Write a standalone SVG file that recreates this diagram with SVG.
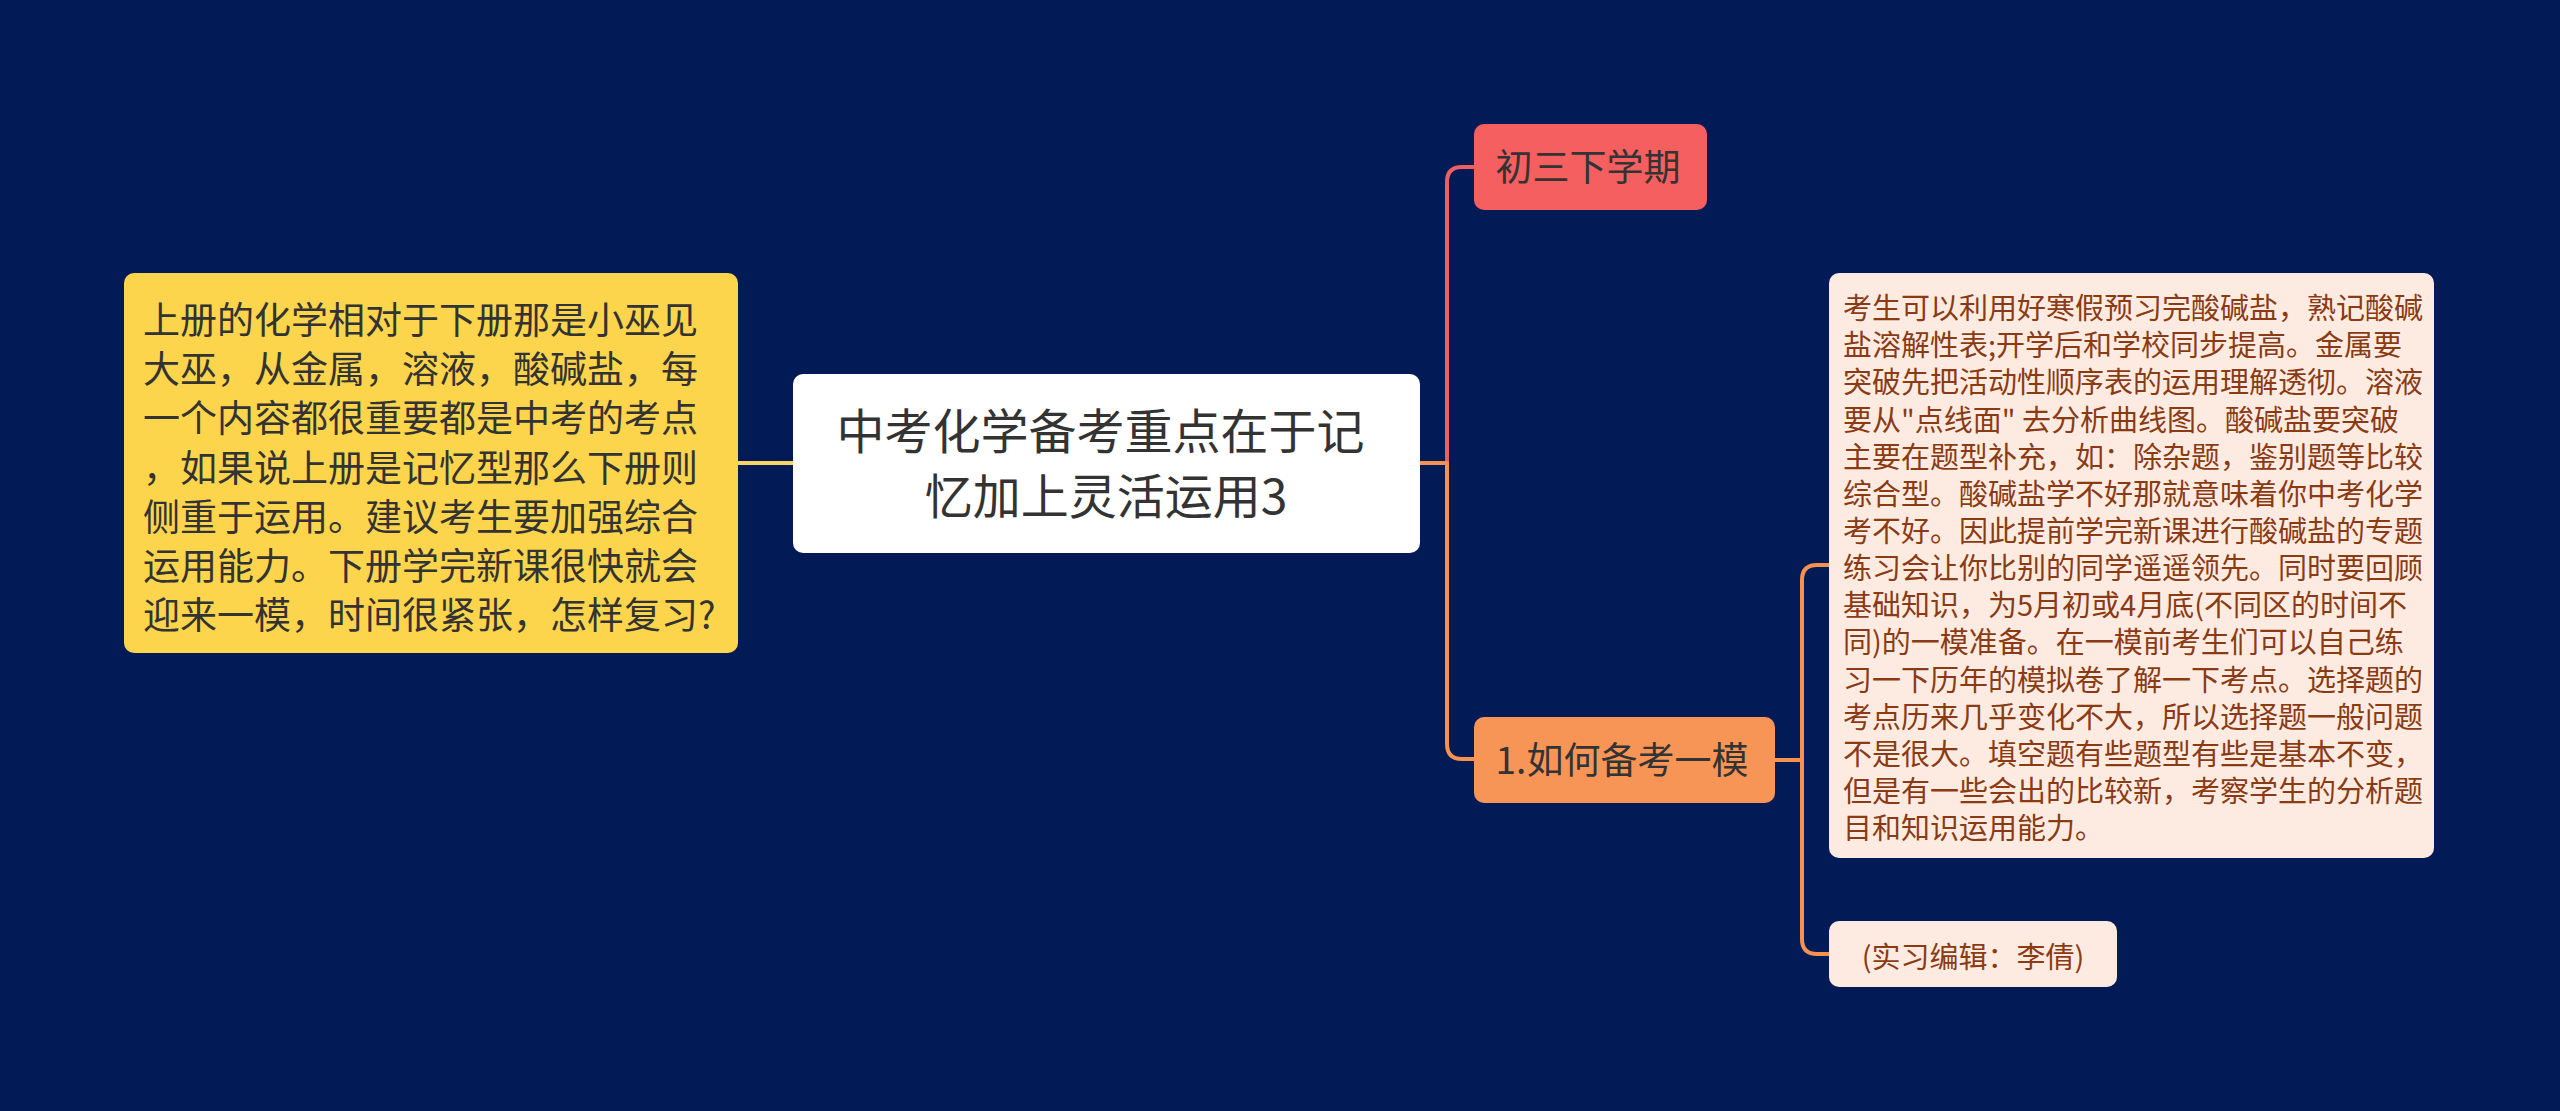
<svg xmlns="http://www.w3.org/2000/svg" width="2560" height="1111" viewBox="0 0 2560 1111">
<style>
text{font-family:"Noto Sans CJK SC","Noto Sans",sans-serif;}
.c{fill:none;stroke-width:4;stroke-linecap:round;stroke-linejoin:round;}
.t37{font-size:37px;fill:#333333;}
.lt{font-size:29px;fill:#8a3b14;}
</style>
<rect width="2560" height="1111" fill="#021a56"/>
<g id="connectors">
<path class="c" stroke="#f7d666" d="M738,463 H793"/>
<path class="c" stroke="#f05f60" d="M1447,463 V182 Q1447,167 1462,167 H1474"/>
<path class="c" stroke="#f5924f" d="M1420,463 H1447 V744 Q1447,759 1462,759 H1474"/>
<path class="c" stroke="#f5924f" d="M1775,760 H1802 V580 Q1802,565 1817,565 H1829"/>
<path class="c" stroke="#f5924f" d="M1802,760 V939 Q1802,954 1817,954 H1829"/>
</g>
<g id="node-left">
<rect x="124" y="273" width="614" height="380" rx="10" fill="#fcd54c"/>
<text class="t37" x="143">
<tspan x="143" y="334">上册的化学相对于下册那是小巫见</tspan>
<tspan x="143" y="383">大巫，从金属，溶液，酸碱盐，每</tspan>
<tspan x="143" y="432">一个内容都很重要都是中考的考点</tspan>
<tspan x="143" y="482">，如果说上册是记忆型那么下册则</tspan>
<tspan x="143" y="531">侧重于运用。建议考生要加强综合</tspan>
<tspan x="143" y="580">运用能力。下册学完新课很快就会</tspan>
<tspan x="143" y="629">迎来一模，时间很紧张，怎样复习?</tspan>
</text>
</g>
<g id="node-root">
<rect x="793" y="374" width="627" height="179" rx="10" fill="#ffffff"/>
<text text-anchor="middle" font-size="48" fill="#333333">
<tspan x="1106" y="449">中考化学备考重点在于记</tspan>
<tspan x="1106" y="514">忆加上灵活运用3</tspan>
</text>
</g>
<g id="node-term">
<rect x="1474" y="124" width="233" height="86" rx="10" fill="#f55f5f"/>
<text class="t37" x="1588" y="181" text-anchor="middle">初三下学期</text>
</g>
<g id="node-mock">
<rect x="1474" y="717" width="301" height="86" rx="10" fill="#f79556"/>
<text class="t37" x="1622" y="774" text-anchor="middle">1.如何备考一模</text>
</g>
<g id="node-detail">
<rect x="1829" y="273" width="605" height="585" rx="10" fill="#fdebe1"/>
<text class="lt">
<tspan x="1843" y="319">考生可以利用好寒假预习完酸碱盐，熟记酸碱</tspan>
<tspan x="1843" y="356">盐溶解性表;开学后和学校同步提高。金属要</tspan>
<tspan x="1843" y="393">突破先把活动性顺序表的运用理解透彻。溶液</tspan>
<tspan x="1843" y="431">要从"点线面" 去分析曲线图。酸碱盐要突破</tspan>
<tspan x="1843" y="468">主要在题型补充，如：除杂题，鉴别题等比较</tspan>
<tspan x="1843" y="505">综合型。酸碱盐学不好那就意味着你中考化学</tspan>
<tspan x="1843" y="542">考不好。因此提前学完新课进行酸碱盐的专题</tspan>
<tspan x="1843" y="579">练习会让你比别的同学遥遥领先。同时要回顾</tspan>
<tspan x="1843" y="616">基础知识，为5月初或4月底(不同区的时间不</tspan>
<tspan x="1843" y="653">同)的一模准备。在一模前考生们可以自己练</tspan>
<tspan x="1843" y="691">习一下历年的模拟卷了解一下考点。选择题的</tspan>
<tspan x="1843" y="728">考点历来几乎变化不大，所以选择题一般问题</tspan>
<tspan x="1843" y="765">不是很大。填空题有些题型有些是基本不变，</tspan>
<tspan x="1843" y="802">但是有一些会出的比较新，考察学生的分析题</tspan>
<tspan x="1843" y="839">目和知识运用能力。</tspan>
</text>
</g>
<g id="node-editor">
<rect x="1829" y="921" width="288" height="66" rx="10" fill="#fdebe1"/>
<text class="lt" x="1973" y="968" text-anchor="middle">(实习编辑：李倩)</text>
</g>
</svg>
